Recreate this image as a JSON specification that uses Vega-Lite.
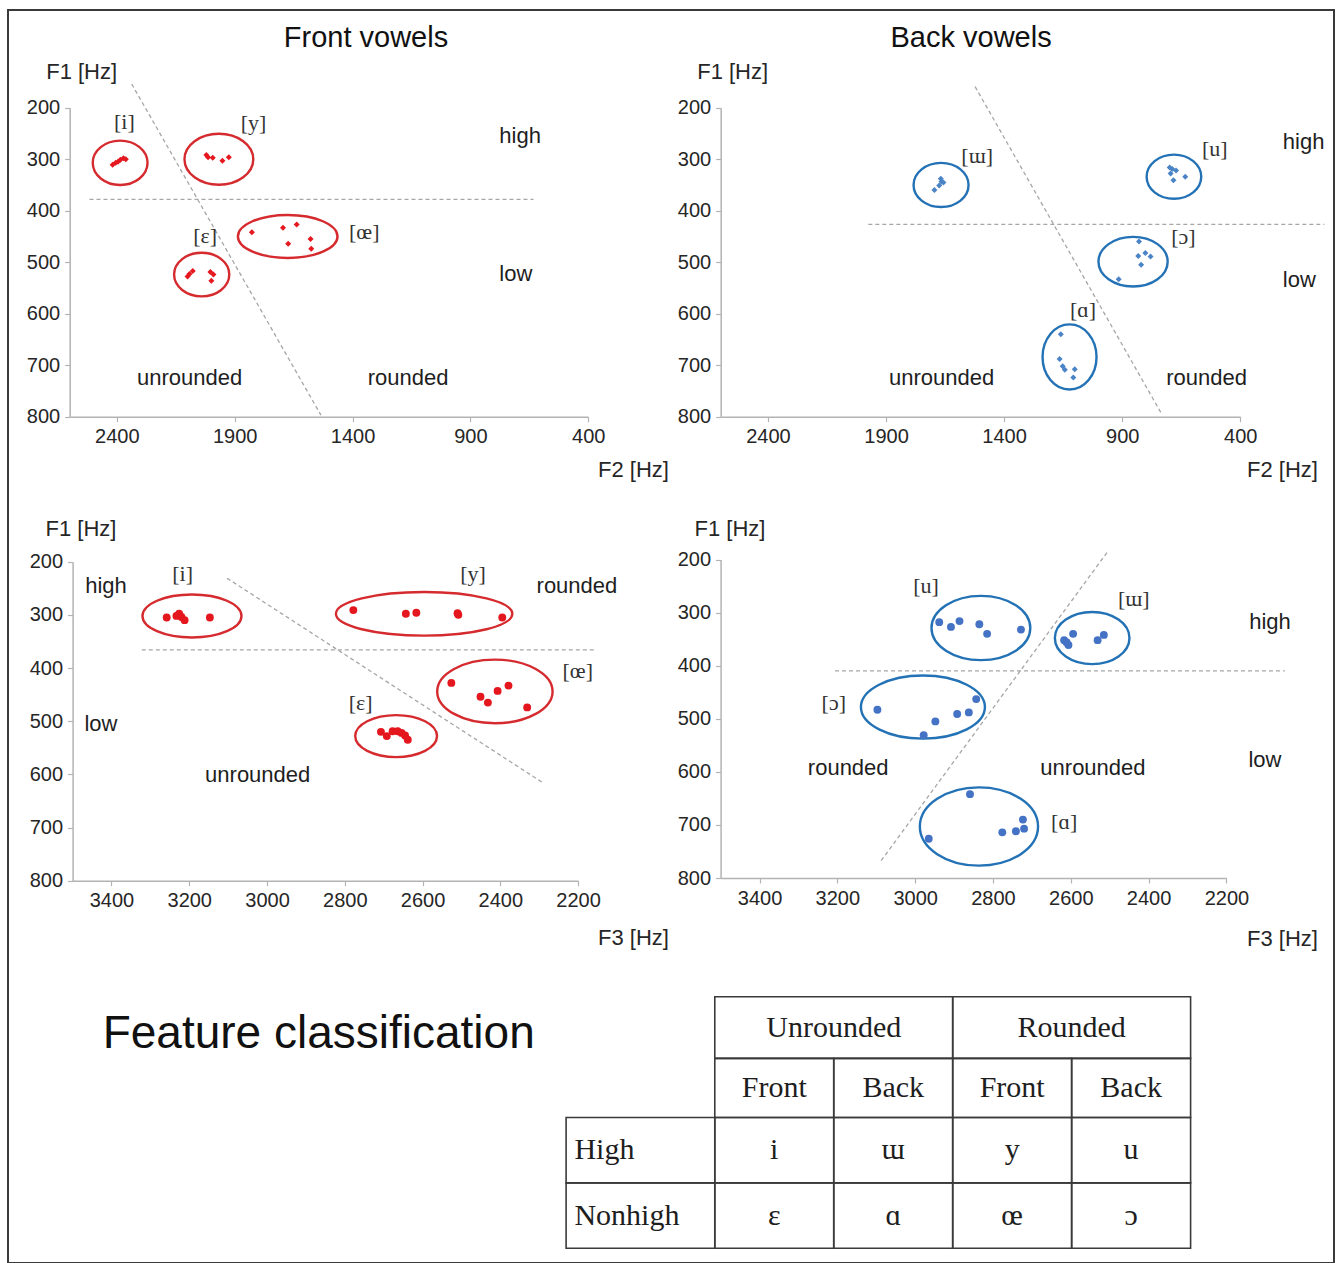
{
  "$schema": "https://vega.github.io/schema/vega-lite/v6.json",
  "width": 1336,
  "height": 1263,
  "autosize": {"type": "fit", "contains": "padding"},
  "padding": {"left": 8, "top": 10, "right": 2, "bottom": 0},
  "background": "white",
  "view": {"stroke": "#3a3a3a", "strokeWidth": 2},
  "config": {
    "axis": {
      "domainColor": "#b3b3b3", "domainWidth": 1.5, "tickColor": "#b3b3b3", "tickSize": 5, "tickWidth": 1.2,
      "labelFont": "Liberation Sans", "labelFontSize": 20, "labelColor": "#262626", "labelPadding": 5,
      "labelFlush": false, "labelOverlap": false, "grid": false,
      "titleFont": "Liberation Sans", "titleFontSize": 22, "titleFontWeight": "normal", "titleColor": "#262626"
    }
  },
  "datasets": {
    "front_f2": [
      {"vowel": "i", "F2": 2418, "F1": 311}, {"vowel": "i", "F2": 2405, "F1": 307}, {"vowel": "i", "F2": 2395, "F1": 305},
      {"vowel": "i", "F2": 2385, "F1": 301}, {"vowel": "i", "F2": 2372, "F1": 298}, {"vowel": "i", "F2": 2362, "F1": 300},
      {"vowel": "y", "F2": 2020, "F1": 292}, {"vowel": "y", "F2": 2013, "F1": 296}, {"vowel": "y", "F2": 1993, "F1": 297},
      {"vowel": "y", "F2": 1952, "F1": 303}, {"vowel": "y", "F2": 1925, "F1": 296},
      {"vowel": "œ", "F2": 1827, "F1": 442}, {"vowel": "œ", "F2": 1695, "F1": 433}, {"vowel": "œ", "F2": 1637, "F1": 427},
      {"vowel": "œ", "F2": 1673, "F1": 464}, {"vowel": "œ", "F2": 1578, "F1": 455}, {"vowel": "œ", "F2": 1575, "F1": 474},
      {"vowel": "ɛ", "F2": 2100, "F1": 528}, {"vowel": "ɛ", "F2": 2092, "F1": 523}, {"vowel": "ɛ", "F2": 2078, "F1": 517},
      {"vowel": "ɛ", "F2": 2003, "F1": 519}, {"vowel": "ɛ", "F2": 1990, "F1": 524}, {"vowel": "ɛ", "F2": 1999, "F1": 536}
    ],
    "front_f2_ellipses": [
      {"vowel": "i", "F2": 2386, "F1": 307}, {"vowel": "y", "F2": 1967, "F1": 300},
      {"vowel": "œ", "F2": 1675, "F1": 450}, {"vowel": "ɛ", "F2": 2040, "F1": 524}
    ],
    "front_f2_guides": [
      {"F2": 2337, "F1": 154, "F2_end": 1534, "F1_end": 797},
      {"F2": 2516, "F1": 378, "F2_end": 632, "F1_end": 378}
    ],
    "front_f2_labels": [
      {"kind": "ipa", "label": "[i]", "F2": 2368, "F1": 227}, {"kind": "ipa", "label": "[y]", "F2": 1820, "F1": 229},
      {"kind": "ipa", "label": "[ɛ]", "F2": 2025, "F1": 450}, {"kind": "ipa", "label": "[œ]", "F2": 1350, "F1": 441},
      {"kind": "region", "label": "high", "F2": 689, "F1": 255}, {"kind": "region", "label": "low", "F2": 707, "F1": 522},
      {"kind": "region", "label": "unrounded", "F2": 2091, "F1": 724}, {"kind": "region", "label": "rounded", "F2": 1164, "F1": 724},
      {"kind": "title", "label": "Front vowels", "F2": 1343, "F1": 65}
    ],
    "back_f2": [
      {"vowel": "ɯ", "F2": 1695, "F1": 360}, {"vowel": "ɯ", "F2": 1675, "F1": 351}, {"vowel": "ɯ", "F2": 1665, "F1": 344},
      {"vowel": "ɯ", "F2": 1668, "F1": 338}, {"vowel": "ɯ", "F2": 1657, "F1": 345},
      {"vowel": "u", "F2": 699, "F1": 316}, {"vowel": "u", "F2": 688, "F1": 319}, {"vowel": "u", "F2": 672, "F1": 322},
      {"vowel": "u", "F2": 695, "F1": 328}, {"vowel": "u", "F2": 683, "F1": 341}, {"vowel": "u", "F2": 633, "F1": 334},
      {"vowel": "ɔ", "F2": 829, "F1": 460}, {"vowel": "ɔ", "F2": 832, "F1": 488}, {"vowel": "ɔ", "F2": 802, "F1": 482},
      {"vowel": "ɔ", "F2": 780, "F1": 489}, {"vowel": "ɔ", "F2": 820, "F1": 505}, {"vowel": "ɔ", "F2": 915, "F1": 533},
      {"vowel": "ɑ", "F2": 1160, "F1": 640}, {"vowel": "ɑ", "F2": 1165, "F1": 688}, {"vowel": "ɑ", "F2": 1152, "F1": 702},
      {"vowel": "ɑ", "F2": 1143, "F1": 709}, {"vowel": "ɑ", "F2": 1101, "F1": 708}, {"vowel": "ɑ", "F2": 1107, "F1": 724}
    ],
    "back_f2_ellipses": [
      {"vowel": "ɯ", "F2": 1667, "F1": 350}, {"vowel": "u", "F2": 681, "F1": 334},
      {"vowel": "ɔ", "F2": 854, "F1": 499}, {"vowel": "ɑ", "F2": 1123, "F1": 684}
    ],
    "back_f2_guides": [
      {"F2": 1523, "F1": 159, "F2_end": 735, "F1_end": 793},
      {"F2": 1975, "F1": 426.5, "F2_end": 44, "F1_end": 426.5}
    ],
    "back_f2_labels": [
      {"kind": "ipa", "label": "[ɯ]", "F2": 1514, "F1": 294}, {"kind": "ipa", "label": "[u]", "F2": 508, "F1": 281},
      {"kind": "ipa", "label": "[ɔ]", "F2": 641, "F1": 452}, {"kind": "ipa", "label": "[ɑ]", "F2": 1066, "F1": 592},
      {"kind": "region", "label": "high", "F2": 132, "F1": 266}, {"kind": "region", "label": "low", "F2": 150, "F1": 535},
      {"kind": "region", "label": "unrounded", "F2": 1665, "F1": 724}, {"kind": "region", "label": "rounded", "F2": 543, "F1": 724},
      {"kind": "title", "label": "Back vowels", "F2": 1540, "F1": 65}
    ],
    "front_f3": [
      {"vowel": "i", "F3": 3258, "F1": 305}, {"vowel": "i", "F3": 3233, "F1": 302}, {"vowel": "i", "F3": 3226, "F1": 298},
      {"vowel": "i", "F3": 3220, "F1": 304}, {"vowel": "i", "F3": 3212, "F1": 310}, {"vowel": "i", "F3": 3147, "F1": 305},
      {"vowel": "y", "F3": 2778, "F1": 291}, {"vowel": "y", "F3": 2643, "F1": 298}, {"vowel": "y", "F3": 2616, "F1": 296},
      {"vowel": "y", "F3": 2510, "F1": 297}, {"vowel": "y", "F3": 2508, "F1": 300}, {"vowel": "y", "F3": 2395, "F1": 305},
      {"vowel": "œ", "F3": 2526, "F1": 428}, {"vowel": "œ", "F3": 2451, "F1": 454}, {"vowel": "œ", "F3": 2432, "F1": 465},
      {"vowel": "œ", "F3": 2407, "F1": 443}, {"vowel": "œ", "F3": 2379, "F1": 433}, {"vowel": "œ", "F3": 2331, "F1": 474},
      {"vowel": "ɛ", "F3": 2707, "F1": 520}, {"vowel": "ɛ", "F3": 2692, "F1": 528}, {"vowel": "ɛ", "F3": 2677, "F1": 519},
      {"vowel": "ɛ", "F3": 2664, "F1": 519}, {"vowel": "ɛ", "F3": 2654, "F1": 522}, {"vowel": "ɛ", "F3": 2645, "F1": 527},
      {"vowel": "ɛ", "F3": 2638, "F1": 535}
    ],
    "front_f3_ellipses": [
      {"vowel": "i", "F3": 3193, "F1": 302}, {"vowel": "y", "F3": 2596, "F1": 298},
      {"vowel": "œ", "F3": 2414, "F1": 444}, {"vowel": "ɛ", "F3": 2668, "F1": 528}
    ],
    "front_f3_guides": [
      {"F3": 3103, "F1": 231, "F3_end": 2288, "F1_end": 617},
      {"F3": 3322, "F1": 366, "F3_end": 2158, "F1_end": 366}
    ],
    "front_f3_labels": [
      {"kind": "ipa", "label": "[i]", "F3": 3217, "F1": 223}, {"kind": "ipa", "label": "[y]", "F3": 2470, "F1": 223},
      {"kind": "ipa", "label": "[œ]", "F3": 2201, "F1": 405}, {"kind": "ipa", "label": "[ɛ]", "F3": 2759, "F1": 465},
      {"kind": "region", "label": "high", "F3": 3414, "F1": 246}, {"kind": "region", "label": "low", "F3": 3427, "F1": 505},
      {"kind": "region", "label": "rounded", "F3": 2203, "F1": 246}, {"kind": "region", "label": "unrounded", "F3": 3024, "F1": 601}
    ],
    "back_f3": [
      {"vowel": "u", "F3": 2938, "F1": 318}, {"vowel": "u", "F3": 2908, "F1": 327}, {"vowel": "u", "F3": 2886, "F1": 316},
      {"vowel": "u", "F3": 2835, "F1": 322}, {"vowel": "u", "F3": 2815, "F1": 340}, {"vowel": "u", "F3": 2728, "F1": 332},
      {"vowel": "ɯ", "F3": 2617, "F1": 352}, {"vowel": "ɯ", "F3": 2611, "F1": 356}, {"vowel": "ɯ", "F3": 2606, "F1": 361},
      {"vowel": "ɯ", "F3": 2594, "F1": 340}, {"vowel": "ɯ", "F3": 2531, "F1": 352}, {"vowel": "ɯ", "F3": 2515, "F1": 342},
      {"vowel": "ɔ", "F3": 3097, "F1": 483}, {"vowel": "ɔ", "F3": 2978, "F1": 531}, {"vowel": "ɔ", "F3": 2948, "F1": 505},
      {"vowel": "ɔ", "F3": 2892, "F1": 491}, {"vowel": "ɔ", "F3": 2862, "F1": 488}, {"vowel": "ɔ", "F3": 2843, "F1": 463},
      {"vowel": "ɑ", "F3": 2965, "F1": 726}, {"vowel": "ɑ", "F3": 2859, "F1": 642}, {"vowel": "ɑ", "F3": 2776, "F1": 714},
      {"vowel": "ɑ", "F3": 2741, "F1": 712}, {"vowel": "ɑ", "F3": 2723, "F1": 690}, {"vowel": "ɑ", "F3": 2720, "F1": 707}
    ],
    "back_f3_ellipses": [
      {"vowel": "u", "F3": 2831, "F1": 329}, {"vowel": "ɯ", "F3": 2545, "F1": 348},
      {"vowel": "ɔ", "F3": 2980, "F1": 478}, {"vowel": "ɑ", "F3": 2836, "F1": 703}
    ],
    "back_f3_guides": [
      {"F3": 2507, "F1": 187, "F3_end": 3090, "F1_end": 770},
      {"F3": 3206, "F1": 410, "F3_end": 2050, "F1_end": 410}
    ],
    "back_f3_labels": [
      {"kind": "ipa", "label": "[u]", "F3": 2972, "F1": 249}, {"kind": "ipa", "label": "[ɯ]", "F3": 2438, "F1": 274},
      {"kind": "ipa", "label": "[ɔ]", "F3": 3209, "F1": 470}, {"kind": "ipa", "label": "[ɑ]", "F3": 2617, "F1": 694},
      {"kind": "region", "label": "high", "F3": 2088, "F1": 317}, {"kind": "region", "label": "low", "F3": 2101, "F1": 578},
      {"kind": "region", "label": "rounded", "F3": 3172, "F1": 592}, {"kind": "region", "label": "unrounded", "F3": 2543, "F1": 592}
    ],
    "table_cells": [
      {"c0": 1.25, "c1": 3.25, "r0": 0, "r1": 0.98}, {"c0": 3.25, "c1": 5.25, "r0": 0, "r1": 0.98},
      {"c0": 1.25, "c1": 2.25, "r0": 0.98, "r1": 1.92}, {"c0": 2.25, "c1": 3.25, "r0": 0.98, "r1": 1.92},
      {"c0": 3.25, "c1": 4.25, "r0": 0.98, "r1": 1.92}, {"c0": 4.25, "c1": 5.25, "r0": 0.98, "r1": 1.92},
      {"c0": 0, "c1": 1.25, "r0": 1.92, "r1": 2.96}, {"c0": 1.25, "c1": 2.25, "r0": 1.92, "r1": 2.96},
      {"c0": 2.25, "c1": 3.25, "r0": 1.92, "r1": 2.96}, {"c0": 3.25, "c1": 4.25, "r0": 1.92, "r1": 2.96},
      {"c0": 4.25, "c1": 5.25, "r0": 1.92, "r1": 2.96},
      {"c0": 0, "c1": 1.25, "r0": 2.96, "r1": 4}, {"c0": 1.25, "c1": 2.25, "r0": 2.96, "r1": 4},
      {"c0": 2.25, "c1": 3.25, "r0": 2.96, "r1": 4}, {"c0": 3.25, "c1": 4.25, "r0": 2.96, "r1": 4},
      {"c0": 4.25, "c1": 5.25, "r0": 2.96, "r1": 4}
    ],
    "table_text": [
      {"kind": "cell", "label": "Unrounded", "col": 2.25, "row": 0.49},
      {"kind": "cell", "label": "Rounded", "col": 4.25, "row": 0.49},
      {"kind": "cell", "label": "Front", "col": 1.75, "row": 1.45},
      {"kind": "cell", "label": "Back", "col": 2.75, "row": 1.45},
      {"kind": "cell", "label": "Front", "col": 3.75, "row": 1.45},
      {"kind": "cell", "label": "Back", "col": 4.75, "row": 1.45},
      {"kind": "rowhead", "label": "High", "col": 0.07, "row": 2.44},
      {"kind": "cell", "label": "i", "col": 1.75, "row": 2.44},
      {"kind": "cell", "label": "ɯ", "col": 2.75, "row": 2.44},
      {"kind": "cell", "label": "y", "col": 3.75, "row": 2.44},
      {"kind": "cell", "label": "u", "col": 4.75, "row": 2.44},
      {"kind": "rowhead", "label": "Nonhigh", "col": 0.07, "row": 3.48},
      {"kind": "cell", "label": "ɛ", "col": 1.75, "row": 3.48},
      {"kind": "cell", "label": "ɑ", "col": 2.75, "row": 3.48},
      {"kind": "cell", "label": "œ", "col": 3.75, "row": 3.48},
      {"kind": "cell", "label": "ɔ", "col": 4.75, "row": 3.48},
      {"kind": "caption", "label": "Feature classification", "col": -2.08, "row": 0.6}
    ]
  },
  "resolve": {
    "scale": {"x": "independent", "y": "independent", "shape": "independent"},
    "axis": {"x": "independent", "y": "independent"}
  },
  "layer": [
    {
      "layer": [
        {
          "data": {"name": "front_f2_guides"},
          "mark": {"type": "rule", "color": "#a6a6a6", "strokeWidth": 1.3, "strokeDash": [4, 3]},
          "encoding": {
            "x": {"field": "F2", "type": "quantitative", "scale": {"domain": [400, 2600], "range": [580.2, 61.7], "zero": false, "nice": false},
              "axis": {"orient": "bottom", "offset": -846.3, "format": "d", "values": [400, 900, 1400, 1900, 2400], "title": "F2 [Hz]", "titleX": 625, "titleY": 53, "titleAlign": "center", "titleBaseline": "middle"}},
            "x2": {"field": "F2_end"},
            "y": {"field": "F1", "type": "quantitative", "scale": {"domain": [200, 800], "range": [97.7, 406.7], "zero": false, "nice": false},
              "axis": {"orient": "left", "offset": -61.7, "format": "d", "values": [200, 300, 400, 500, 600, 700, 800], "title": "F1 [Hz]", "titleX": -24, "titleY": 61, "titleAlign": "left", "titleBaseline": "middle", "titleAngle": 0}},
            "y2": {"field": "F1_end"}
          }
        },
        {
          "data": {"name": "front_f2_ellipses"},
          "mark": {"type": "point", "filled": false, "size": 4, "strokeWidth": 2.4, "color": "#d52a2e", "opacity": 1},
          "encoding": {
            "x": {"field": "F2", "type": "quantitative", "scale": {"domain": [400, 2600], "range": [580.2, 61.7], "zero": false, "nice": false},
              "axis": {"orient": "bottom", "offset": -846.3, "format": "d", "values": [400, 900, 1400, 1900, 2400], "title": "F2 [Hz]", "titleX": 625, "titleY": 53, "titleAlign": "center", "titleBaseline": "middle"}},
            "y": {"field": "F1", "type": "quantitative", "scale": {"domain": [200, 800], "range": [97.7, 406.7], "zero": false, "nice": false},
              "axis": {"orient": "left", "offset": -61.7, "format": "d", "values": [200, 300, 400, 500, 600, 700, 800], "title": "F1 [Hz]", "titleX": -24, "titleY": 61, "titleAlign": "left", "titleBaseline": "middle", "titleAngle": 0}},
            "shape": {"field": "vowel", "type": "nominal", "legend": null, "scale": {"domain": ["i", "y", "œ", "ɛ"], "range": [
              "M-27.4,0A27.4,22.2 0 1 1 27.4,0A27.4,22.2 0 1 1 -27.4,0Z",
              "M-34.4,0A34.4,25.5 0 1 1 34.4,0A34.4,25.5 0 1 1 -34.4,0Z",
              "M-49.8,0A49.8,21.5 0 1 1 49.8,0A49.8,21.5 0 1 1 -49.8,0Z",
              "M-27.6,0A27.6,21.8 0 1 1 27.6,0A27.6,21.8 0 1 1 -27.6,0Z"]}}
          }
        },
        {
          "data": {"name": "front_f2"},
          "mark": {"type": "point", "shape": "diamond", "filled": true, "size": 36, "color": "#e5171f", "opacity": 1},
          "encoding": {
            "x": {"field": "F2", "type": "quantitative", "scale": {"domain": [400, 2600], "range": [580.2, 61.7], "zero": false, "nice": false},
              "axis": {"orient": "bottom", "offset": -846.3, "format": "d", "values": [400, 900, 1400, 1900, 2400], "title": "F2 [Hz]", "titleX": 625, "titleY": 53, "titleAlign": "center", "titleBaseline": "middle"}},
            "y": {"field": "F1", "type": "quantitative", "scale": {"domain": [200, 800], "range": [97.7, 406.7], "zero": false, "nice": false},
              "axis": {"orient": "left", "offset": -61.7, "format": "d", "values": [200, 300, 400, 500, 600, 700, 800], "title": "F1 [Hz]", "titleX": -24, "titleY": 61, "titleAlign": "left", "titleBaseline": "middle", "titleAngle": 0}}
          }
        },
        {
          "data": {"name": "front_f2_labels"},
          "transform": [{"filter": "datum.kind == 'ipa'"}],
          "mark": {"type": "text", "font": "Liberation Serif", "fontSize": 22, "color": "#333333", "align": "center", "baseline": "middle"},
          "encoding": {
            "x": {"field": "F2", "type": "quantitative", "scale": {"domain": [400, 2600], "range": [580.2, 61.7], "zero": false, "nice": false},
              "axis": {"orient": "bottom", "offset": -846.3, "format": "d", "values": [400, 900, 1400, 1900, 2400], "title": "F2 [Hz]", "titleX": 625, "titleY": 53, "titleAlign": "center", "titleBaseline": "middle"}},
            "y": {"field": "F1", "type": "quantitative", "scale": {"domain": [200, 800], "range": [97.7, 406.7], "zero": false, "nice": false},
              "axis": {"orient": "left", "offset": -61.7, "format": "d", "values": [200, 300, 400, 500, 600, 700, 800], "title": "F1 [Hz]", "titleX": -24, "titleY": 61, "titleAlign": "left", "titleBaseline": "middle", "titleAngle": 0}},
            "text": {"field": "label"}
          }
        },
        {
          "data": {"name": "front_f2_labels"},
          "transform": [{"filter": "datum.kind == 'region'"}],
          "mark": {"type": "text", "font": "Liberation Sans", "fontSize": 22, "color": "#1e1e1e", "align": "center", "baseline": "middle"},
          "encoding": {
            "x": {"field": "F2", "type": "quantitative", "scale": {"domain": [400, 2600], "range": [580.2, 61.7], "zero": false, "nice": false},
              "axis": {"orient": "bottom", "offset": -846.3, "format": "d", "values": [400, 900, 1400, 1900, 2400], "title": "F2 [Hz]", "titleX": 625, "titleY": 53, "titleAlign": "center", "titleBaseline": "middle"}},
            "y": {"field": "F1", "type": "quantitative", "scale": {"domain": [200, 800], "range": [97.7, 406.7], "zero": false, "nice": false},
              "axis": {"orient": "left", "offset": -61.7, "format": "d", "values": [200, 300, 400, 500, 600, 700, 800], "title": "F1 [Hz]", "titleX": -24, "titleY": 61, "titleAlign": "left", "titleBaseline": "middle", "titleAngle": 0}},
            "text": {"field": "label"}
          }
        },
        {
          "data": {"name": "front_f2_labels"},
          "transform": [{"filter": "datum.kind == 'title'"}],
          "mark": {"type": "text", "font": "Liberation Sans", "fontSize": 29, "color": "#111111", "align": "center", "baseline": "middle"},
          "encoding": {
            "x": {"field": "F2", "type": "quantitative", "scale": {"domain": [400, 2600], "range": [580.2, 61.7], "zero": false, "nice": false},
              "axis": {"orient": "bottom", "offset": -846.3, "format": "d", "values": [400, 900, 1400, 1900, 2400], "title": "F2 [Hz]", "titleX": 625, "titleY": 53, "titleAlign": "center", "titleBaseline": "middle"}},
            "y": {"field": "F1", "type": "quantitative", "scale": {"domain": [200, 800], "range": [97.7, 406.7], "zero": false, "nice": false},
              "axis": {"orient": "left", "offset": -61.7, "format": "d", "values": [200, 300, 400, 500, 600, 700, 800], "title": "F1 [Hz]", "titleX": -24, "titleY": 61, "titleAlign": "left", "titleBaseline": "middle", "titleAngle": 0}},
            "text": {"field": "label"}
          }
        }
      ]
    },
    {
      "layer": [
        {
          "data": {"name": "back_f2_guides"},
          "mark": {"type": "rule", "color": "#a6a6a6", "strokeWidth": 1.3, "strokeDash": [4, 3]},
          "encoding": {
            "x": {"field": "F2", "type": "quantitative", "scale": {"domain": [400, 2600], "range": [1232.3, 712.7], "zero": false, "nice": false},
              "axis": {"orient": "bottom", "offset": -846.3, "format": "d", "values": [400, 900, 1400, 1900, 2400], "title": "F2 [Hz]", "titleX": 1274, "titleY": 53, "titleAlign": "center", "titleBaseline": "middle"}},
            "x2": {"field": "F2_end"},
            "y": {"field": "F1", "type": "quantitative", "scale": {"domain": [200, 800], "range": [97.7, 406.7], "zero": false, "nice": false},
              "axis": {"orient": "left", "offset": -712.7, "format": "d", "values": [200, 300, 400, 500, 600, 700, 800], "title": "F1 [Hz]", "titleX": -24, "titleY": 61, "titleAlign": "left", "titleBaseline": "middle", "titleAngle": 0}},
            "y2": {"field": "F1_end"}
          }
        },
        {
          "data": {"name": "back_f2_ellipses"},
          "mark": {"type": "point", "filled": false, "size": 4, "strokeWidth": 2.4, "color": "#2372b6", "opacity": 1},
          "encoding": {
            "x": {"field": "F2", "type": "quantitative", "scale": {"domain": [400, 2600], "range": [1232.3, 712.7], "zero": false, "nice": false},
              "axis": {"orient": "bottom", "offset": -846.3, "format": "d", "values": [400, 900, 1400, 1900, 2400], "title": "F2 [Hz]", "titleX": 1274, "titleY": 53, "titleAlign": "center", "titleBaseline": "middle"}},
            "y": {"field": "F1", "type": "quantitative", "scale": {"domain": [200, 800], "range": [97.7, 406.7], "zero": false, "nice": false},
              "axis": {"orient": "left", "offset": -712.7, "format": "d", "values": [200, 300, 400, 500, 600, 700, 800], "title": "F1 [Hz]", "titleX": -24, "titleY": 61, "titleAlign": "left", "titleBaseline": "middle", "titleAngle": 0}},
            "shape": {"field": "vowel", "type": "nominal", "legend": null, "scale": {"domain": ["ɯ", "u", "ɔ", "ɑ"], "range": [
              "M-27.5,0A27.5,22.1 0 1 1 27.5,0A27.5,22.1 0 1 1 -27.5,0Z",
              "M-27.3,0A27.3,22.1 0 1 1 27.3,0A27.3,22.1 0 1 1 -27.3,0Z",
              "M-34.6,0A34.6,24.8 0 1 1 34.6,0A34.6,24.8 0 1 1 -34.6,0Z",
              "M-27,0A27,32.6 0 1 1 27,0A27,32.6 0 1 1 -27,0Z"]}}
          }
        },
        {
          "data": {"name": "back_f2"},
          "mark": {"type": "point", "shape": "diamond", "filled": true, "size": 36, "color": "#4a84c6", "opacity": 1},
          "encoding": {
            "x": {"field": "F2", "type": "quantitative", "scale": {"domain": [400, 2600], "range": [1232.3, 712.7], "zero": false, "nice": false},
              "axis": {"orient": "bottom", "offset": -846.3, "format": "d", "values": [400, 900, 1400, 1900, 2400], "title": "F2 [Hz]", "titleX": 1274, "titleY": 53, "titleAlign": "center", "titleBaseline": "middle"}},
            "y": {"field": "F1", "type": "quantitative", "scale": {"domain": [200, 800], "range": [97.7, 406.7], "zero": false, "nice": false},
              "axis": {"orient": "left", "offset": -712.7, "format": "d", "values": [200, 300, 400, 500, 600, 700, 800], "title": "F1 [Hz]", "titleX": -24, "titleY": 61, "titleAlign": "left", "titleBaseline": "middle", "titleAngle": 0}}
          }
        },
        {
          "data": {"name": "back_f2_labels"},
          "transform": [{"filter": "datum.kind == 'ipa'"}],
          "mark": {"type": "text", "font": "Liberation Serif", "fontSize": 22, "color": "#333333", "align": "center", "baseline": "middle"},
          "encoding": {
            "x": {"field": "F2", "type": "quantitative", "scale": {"domain": [400, 2600], "range": [1232.3, 712.7], "zero": false, "nice": false},
              "axis": {"orient": "bottom", "offset": -846.3, "format": "d", "values": [400, 900, 1400, 1900, 2400], "title": "F2 [Hz]", "titleX": 1274, "titleY": 53, "titleAlign": "center", "titleBaseline": "middle"}},
            "y": {"field": "F1", "type": "quantitative", "scale": {"domain": [200, 800], "range": [97.7, 406.7], "zero": false, "nice": false},
              "axis": {"orient": "left", "offset": -712.7, "format": "d", "values": [200, 300, 400, 500, 600, 700, 800], "title": "F1 [Hz]", "titleX": -24, "titleY": 61, "titleAlign": "left", "titleBaseline": "middle", "titleAngle": 0}},
            "text": {"field": "label"}
          }
        },
        {
          "data": {"name": "back_f2_labels"},
          "transform": [{"filter": "datum.kind == 'region'"}],
          "mark": {"type": "text", "font": "Liberation Sans", "fontSize": 22, "color": "#1e1e1e", "align": "center", "baseline": "middle"},
          "encoding": {
            "x": {"field": "F2", "type": "quantitative", "scale": {"domain": [400, 2600], "range": [1232.3, 712.7], "zero": false, "nice": false},
              "axis": {"orient": "bottom", "offset": -846.3, "format": "d", "values": [400, 900, 1400, 1900, 2400], "title": "F2 [Hz]", "titleX": 1274, "titleY": 53, "titleAlign": "center", "titleBaseline": "middle"}},
            "y": {"field": "F1", "type": "quantitative", "scale": {"domain": [200, 800], "range": [97.7, 406.7], "zero": false, "nice": false},
              "axis": {"orient": "left", "offset": -712.7, "format": "d", "values": [200, 300, 400, 500, 600, 700, 800], "title": "F1 [Hz]", "titleX": -24, "titleY": 61, "titleAlign": "left", "titleBaseline": "middle", "titleAngle": 0}},
            "text": {"field": "label"}
          }
        },
        {
          "data": {"name": "back_f2_labels"},
          "transform": [{"filter": "datum.kind == 'title'"}],
          "mark": {"type": "text", "font": "Liberation Sans", "fontSize": 29, "color": "#111111", "align": "center", "baseline": "middle"},
          "encoding": {
            "x": {"field": "F2", "type": "quantitative", "scale": {"domain": [400, 2600], "range": [1232.3, 712.7], "zero": false, "nice": false},
              "axis": {"orient": "bottom", "offset": -846.3, "format": "d", "values": [400, 900, 1400, 1900, 2400], "title": "F2 [Hz]", "titleX": 1274, "titleY": 53, "titleAlign": "center", "titleBaseline": "middle"}},
            "y": {"field": "F1", "type": "quantitative", "scale": {"domain": [200, 800], "range": [97.7, 406.7], "zero": false, "nice": false},
              "axis": {"orient": "left", "offset": -712.7, "format": "d", "values": [200, 300, 400, 500, 600, 700, 800], "title": "F1 [Hz]", "titleX": -24, "titleY": 61, "titleAlign": "left", "titleBaseline": "middle", "titleAngle": 0}},
            "text": {"field": "label"}
          }
        }
      ]
    },
    {
      "layer": [
        {
          "data": {"name": "front_f3_guides"},
          "mark": {"type": "rule", "color": "#a6a6a6", "strokeWidth": 1.3, "strokeDash": [4, 3]},
          "encoding": {
            "x": {"field": "F3", "type": "quantitative", "scale": {"domain": [2200, 3500], "range": [570.1, 64.6], "zero": false, "nice": false},
              "axis": {"orient": "bottom", "offset": -382.3, "format": "d", "values": [2200, 2400, 2600, 2800, 3000, 3200, 3400], "title": "F3 [Hz]", "titleX": 625, "titleY": 57, "titleAlign": "center", "titleBaseline": "middle"}},
            "x2": {"field": "F3_end"},
            "y": {"field": "F1", "type": "quantitative", "scale": {"domain": [200, 800], "range": [551.7, 870.7], "zero": false, "nice": false},
              "axis": {"orient": "left", "offset": -64.6, "format": "d", "values": [200, 300, 400, 500, 600, 700, 800], "title": "F1 [Hz]", "titleX": -27.6, "titleY": 518, "titleAlign": "left", "titleBaseline": "middle", "titleAngle": 0}},
            "y2": {"field": "F1_end"}
          }
        },
        {
          "data": {"name": "front_f3_ellipses"},
          "mark": {"type": "point", "filled": false, "size": 4, "strokeWidth": 2.4, "color": "#d52a2e", "opacity": 1},
          "encoding": {
            "x": {"field": "F3", "type": "quantitative", "scale": {"domain": [2200, 3500], "range": [570.1, 64.6], "zero": false, "nice": false},
              "axis": {"orient": "bottom", "offset": -382.3, "format": "d", "values": [2200, 2400, 2600, 2800, 3000, 3200, 3400], "title": "F3 [Hz]", "titleX": 625, "titleY": 57, "titleAlign": "center", "titleBaseline": "middle"}},
            "y": {"field": "F1", "type": "quantitative", "scale": {"domain": [200, 800], "range": [551.7, 870.7], "zero": false, "nice": false},
              "axis": {"orient": "left", "offset": -64.6, "format": "d", "values": [200, 300, 400, 500, 600, 700, 800], "title": "F1 [Hz]", "titleX": -27.6, "titleY": 518, "titleAlign": "left", "titleBaseline": "middle", "titleAngle": 0}},
            "shape": {"field": "vowel", "type": "nominal", "legend": null, "scale": {"domain": ["i", "y", "œ", "ɛ"], "range": [
              "M-49.5,0A49.5,21.5 0 1 1 49.5,0A49.5,21.5 0 1 1 -49.5,0Z",
              "M-88.2,0A88.2,21.8 0 1 1 88.2,0A88.2,21.8 0 1 1 -88.2,0Z",
              "M-57.7,0A57.7,31.8 0 1 1 57.7,0A57.7,31.8 0 1 1 -57.7,0Z",
              "M-40.9,0A40.9,21 0 1 1 40.9,0A40.9,21 0 1 1 -40.9,0Z"]}}
          }
        },
        {
          "data": {"name": "front_f3"},
          "mark": {"type": "point", "shape": "circle", "filled": true, "size": 62, "color": "#e3171d", "opacity": 1},
          "encoding": {
            "x": {"field": "F3", "type": "quantitative", "scale": {"domain": [2200, 3500], "range": [570.1, 64.6], "zero": false, "nice": false},
              "axis": {"orient": "bottom", "offset": -382.3, "format": "d", "values": [2200, 2400, 2600, 2800, 3000, 3200, 3400], "title": "F3 [Hz]", "titleX": 625, "titleY": 57, "titleAlign": "center", "titleBaseline": "middle"}},
            "y": {"field": "F1", "type": "quantitative", "scale": {"domain": [200, 800], "range": [551.7, 870.7], "zero": false, "nice": false},
              "axis": {"orient": "left", "offset": -64.6, "format": "d", "values": [200, 300, 400, 500, 600, 700, 800], "title": "F1 [Hz]", "titleX": -27.6, "titleY": 518, "titleAlign": "left", "titleBaseline": "middle", "titleAngle": 0}}
          }
        },
        {
          "data": {"name": "front_f3_labels"},
          "transform": [{"filter": "datum.kind == 'ipa'"}],
          "mark": {"type": "text", "font": "Liberation Serif", "fontSize": 22, "color": "#333333", "align": "center", "baseline": "middle"},
          "encoding": {
            "x": {"field": "F3", "type": "quantitative", "scale": {"domain": [2200, 3500], "range": [570.1, 64.6], "zero": false, "nice": false},
              "axis": {"orient": "bottom", "offset": -382.3, "format": "d", "values": [2200, 2400, 2600, 2800, 3000, 3200, 3400], "title": "F3 [Hz]", "titleX": 625, "titleY": 57, "titleAlign": "center", "titleBaseline": "middle"}},
            "y": {"field": "F1", "type": "quantitative", "scale": {"domain": [200, 800], "range": [551.7, 870.7], "zero": false, "nice": false},
              "axis": {"orient": "left", "offset": -64.6, "format": "d", "values": [200, 300, 400, 500, 600, 700, 800], "title": "F1 [Hz]", "titleX": -27.6, "titleY": 518, "titleAlign": "left", "titleBaseline": "middle", "titleAngle": 0}},
            "text": {"field": "label"}
          }
        },
        {
          "data": {"name": "front_f3_labels"},
          "transform": [{"filter": "datum.kind == 'region'"}],
          "mark": {"type": "text", "font": "Liberation Sans", "fontSize": 22, "color": "#1e1e1e", "align": "center", "baseline": "middle"},
          "encoding": {
            "x": {"field": "F3", "type": "quantitative", "scale": {"domain": [2200, 3500], "range": [570.1, 64.6], "zero": false, "nice": false},
              "axis": {"orient": "bottom", "offset": -382.3, "format": "d", "values": [2200, 2400, 2600, 2800, 3000, 3200, 3400], "title": "F3 [Hz]", "titleX": 625, "titleY": 57, "titleAlign": "center", "titleBaseline": "middle"}},
            "y": {"field": "F1", "type": "quantitative", "scale": {"domain": [200, 800], "range": [551.7, 870.7], "zero": false, "nice": false},
              "axis": {"orient": "left", "offset": -64.6, "format": "d", "values": [200, 300, 400, 500, 600, 700, 800], "title": "F1 [Hz]", "titleX": -27.6, "titleY": 518, "titleAlign": "left", "titleBaseline": "middle", "titleAngle": 0}},
            "text": {"field": "label"}
          }
        }
      ]
    },
    {
      "layer": [
        {
          "data": {"name": "back_f3_guides"},
          "mark": {"type": "rule", "color": "#a6a6a6", "strokeWidth": 1.3, "strokeDash": [4, 3]},
          "encoding": {
            "x": {"field": "F3", "type": "quantitative", "scale": {"domain": [2200, 3500], "range": [1218.4, 712.6], "zero": false, "nice": false},
              "axis": {"orient": "bottom", "offset": -385, "format": "d", "values": [2200, 2400, 2600, 2800, 3000, 3200, 3400], "title": "F3 [Hz]", "titleX": 1274, "titleY": 60, "titleAlign": "center", "titleBaseline": "middle"}},
            "x2": {"field": "F3_end"},
            "y": {"field": "F1", "type": "quantitative", "scale": {"domain": [200, 800], "range": [549.5, 868], "zero": false, "nice": false},
              "axis": {"orient": "left", "offset": -712.6, "format": "d", "values": [200, 300, 400, 500, 600, 700, 800], "title": "F1 [Hz]", "titleX": -26.6, "titleY": 518, "titleAlign": "left", "titleBaseline": "middle", "titleAngle": 0}},
            "y2": {"field": "F1_end"}
          }
        },
        {
          "data": {"name": "back_f3_ellipses"},
          "mark": {"type": "point", "filled": false, "size": 4, "strokeWidth": 2.4, "color": "#2372b6", "opacity": 1},
          "encoding": {
            "x": {"field": "F3", "type": "quantitative", "scale": {"domain": [2200, 3500], "range": [1218.4, 712.6], "zero": false, "nice": false},
              "axis": {"orient": "bottom", "offset": -385, "format": "d", "values": [2200, 2400, 2600, 2800, 3000, 3200, 3400], "title": "F3 [Hz]", "titleX": 1274, "titleY": 60, "titleAlign": "center", "titleBaseline": "middle"}},
            "y": {"field": "F1", "type": "quantitative", "scale": {"domain": [200, 800], "range": [549.5, 868], "zero": false, "nice": false},
              "axis": {"orient": "left", "offset": -712.6, "format": "d", "values": [200, 300, 400, 500, 600, 700, 800], "title": "F1 [Hz]", "titleX": -26.6, "titleY": 518, "titleAlign": "left", "titleBaseline": "middle", "titleAngle": 0}},
            "shape": {"field": "vowel", "type": "nominal", "legend": null, "scale": {"domain": ["u", "ɯ", "ɔ", "ɑ"], "range": [
              "M-49.4,0A49.4,32.1 0 1 1 49.4,0A49.4,32.1 0 1 1 -49.4,0Z",
              "M-37.3,0A37.3,26.1 0 1 1 37.3,0A37.3,26.1 0 1 1 -37.3,0Z",
              "M-62,0A62,31.6 0 1 1 62,0A62,31.6 0 1 1 -62,0Z",
              "M-59.1,0A59.1,39.1 0 1 1 59.1,0A59.1,39.1 0 1 1 -59.1,0Z"]}}
          }
        },
        {
          "data": {"name": "back_f3"},
          "mark": {"type": "point", "shape": "circle", "filled": true, "size": 62, "color": "#4472c4", "opacity": 1},
          "encoding": {
            "x": {"field": "F3", "type": "quantitative", "scale": {"domain": [2200, 3500], "range": [1218.4, 712.6], "zero": false, "nice": false},
              "axis": {"orient": "bottom", "offset": -385, "format": "d", "values": [2200, 2400, 2600, 2800, 3000, 3200, 3400], "title": "F3 [Hz]", "titleX": 1274, "titleY": 60, "titleAlign": "center", "titleBaseline": "middle"}},
            "y": {"field": "F1", "type": "quantitative", "scale": {"domain": [200, 800], "range": [549.5, 868], "zero": false, "nice": false},
              "axis": {"orient": "left", "offset": -712.6, "format": "d", "values": [200, 300, 400, 500, 600, 700, 800], "title": "F1 [Hz]", "titleX": -26.6, "titleY": 518, "titleAlign": "left", "titleBaseline": "middle", "titleAngle": 0}}
          }
        },
        {
          "data": {"name": "back_f3_labels"},
          "transform": [{"filter": "datum.kind == 'ipa'"}],
          "mark": {"type": "text", "font": "Liberation Serif", "fontSize": 22, "color": "#333333", "align": "center", "baseline": "middle"},
          "encoding": {
            "x": {"field": "F3", "type": "quantitative", "scale": {"domain": [2200, 3500], "range": [1218.4, 712.6], "zero": false, "nice": false},
              "axis": {"orient": "bottom", "offset": -385, "format": "d", "values": [2200, 2400, 2600, 2800, 3000, 3200, 3400], "title": "F3 [Hz]", "titleX": 1274, "titleY": 60, "titleAlign": "center", "titleBaseline": "middle"}},
            "y": {"field": "F1", "type": "quantitative", "scale": {"domain": [200, 800], "range": [549.5, 868], "zero": false, "nice": false},
              "axis": {"orient": "left", "offset": -712.6, "format": "d", "values": [200, 300, 400, 500, 600, 700, 800], "title": "F1 [Hz]", "titleX": -26.6, "titleY": 518, "titleAlign": "left", "titleBaseline": "middle", "titleAngle": 0}},
            "text": {"field": "label"}
          }
        },
        {
          "data": {"name": "back_f3_labels"},
          "transform": [{"filter": "datum.kind == 'region'"}],
          "mark": {"type": "text", "font": "Liberation Sans", "fontSize": 22, "color": "#1e1e1e", "align": "center", "baseline": "middle"},
          "encoding": {
            "x": {"field": "F3", "type": "quantitative", "scale": {"domain": [2200, 3500], "range": [1218.4, 712.6], "zero": false, "nice": false},
              "axis": {"orient": "bottom", "offset": -385, "format": "d", "values": [2200, 2400, 2600, 2800, 3000, 3200, 3400], "title": "F3 [Hz]", "titleX": 1274, "titleY": 60, "titleAlign": "center", "titleBaseline": "middle"}},
            "y": {"field": "F1", "type": "quantitative", "scale": {"domain": [200, 800], "range": [549.5, 868], "zero": false, "nice": false},
              "axis": {"orient": "left", "offset": -712.6, "format": "d", "values": [200, 300, 400, 500, 600, 700, 800], "title": "F1 [Hz]", "titleX": -26.6, "titleY": 518, "titleAlign": "left", "titleBaseline": "middle", "titleAngle": 0}},
            "text": {"field": "label"}
          }
        }
      ]
    },
    {
      "layer": [
        {
          "data": {"name": "table_cells"},
          "mark": {"type": "rect", "filled": false, "color": "#3a3a3a", "strokeWidth": 1.6, "opacity": 1},
          "encoding": {
            "x": {"field": "c0", "type": "quantitative", "scale": {"domain": [0, 5.25], "range": [558.1, 1182.6], "zero": false, "nice": false}, "axis": null},
            "x2": {"field": "c1"},
            "y": {"field": "r0", "type": "quantitative", "scale": {"domain": [0, 4], "range": [986.7, 1238.3], "zero": false, "nice": false}, "axis": null},
            "y2": {"field": "r1"}
          }
        },
        {
          "data": {"name": "table_text"},
          "transform": [{"filter": "datum.kind == 'cell'"}],
          "mark": {"type": "text", "font": "Liberation Serif", "fontSize": 30, "color": "#1e1e1e", "align": "center", "baseline": "middle"},
          "encoding": {
            "x": {"field": "col", "type": "quantitative", "scale": {"domain": [0, 5.25], "range": [558.1, 1182.6], "zero": false, "nice": false}, "axis": null},
            "y": {"field": "row", "type": "quantitative", "scale": {"domain": [0, 4], "range": [986.7, 1238.3], "zero": false, "nice": false}, "axis": null},
            "text": {"field": "label"}
          }
        },
        {
          "data": {"name": "table_text"},
          "transform": [{"filter": "datum.kind == 'rowhead'"}],
          "mark": {"type": "text", "font": "Liberation Serif", "fontSize": 30, "color": "#1e1e1e", "align": "left", "baseline": "middle"},
          "encoding": {
            "x": {"field": "col", "type": "quantitative", "scale": {"domain": [0, 5.25], "range": [558.1, 1182.6], "zero": false, "nice": false}, "axis": null},
            "y": {"field": "row", "type": "quantitative", "scale": {"domain": [0, 4], "range": [986.7, 1238.3], "zero": false, "nice": false}, "axis": null},
            "text": {"field": "label"}
          }
        },
        {
          "data": {"name": "table_text"},
          "transform": [{"filter": "datum.kind == 'caption'"}],
          "mark": {"type": "text", "font": "Liberation Sans", "fontSize": 46, "color": "#111111", "align": "center", "baseline": "middle"},
          "encoding": {
            "x": {"field": "col", "type": "quantitative", "scale": {"domain": [0, 5.25], "range": [558.1, 1182.6], "zero": false, "nice": false}, "axis": null},
            "y": {"field": "row", "type": "quantitative", "scale": {"domain": [0, 4], "range": [986.7, 1238.3], "zero": false, "nice": false}, "axis": null},
            "text": {"field": "label"}
          }
        }
      ]
    }
  ]
}
